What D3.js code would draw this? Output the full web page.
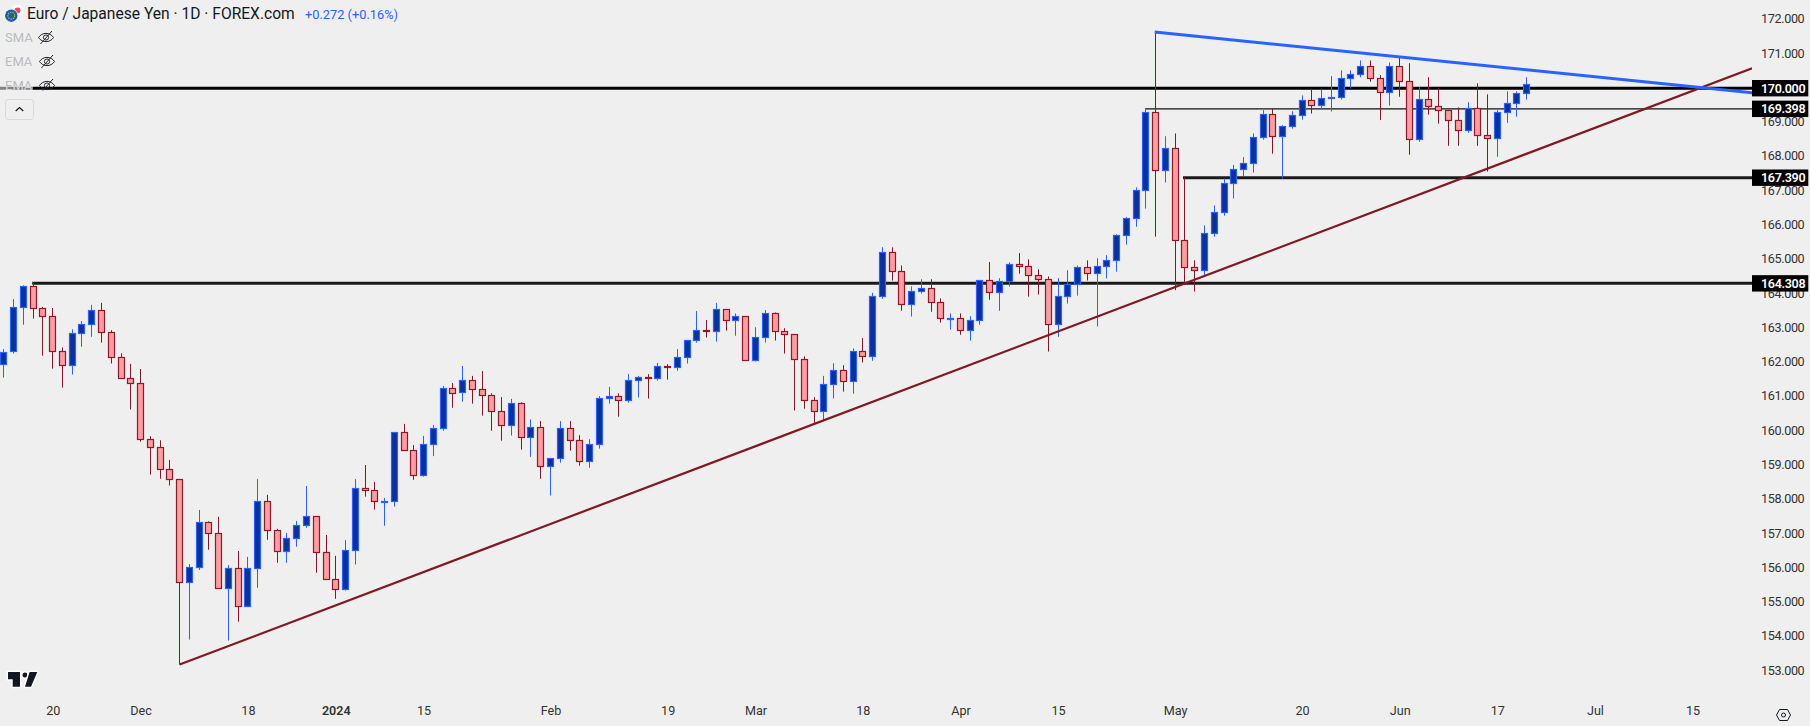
<!DOCTYPE html>
<html><head><meta charset="utf-8">
<script src="https://cdn.jsdelivr.net/npm/d3@7/dist/d3.min.js"></script>
<style>
html,body{margin:0;padding:0;background:#efefef;overflow:hidden}
text{font-family:Roboto,"Liberation Sans",sans-serif}
</style></head><body><svg id="c" width="1810" height="726"></svg>
<script>
const opens=[161.95,162.33,163.61,164.22,163.58,163.35,162.33,161.92,162.85,163.11,
163.52,162.88,162.15,161.54,161.39,159.76,159.53,158.89,158.59,155.59,
156.03,157.34,157.02,155.42,156.00,154.89,156.00,157.95,157.11,156.49,
156.87,157.25,157.51,156.46,155.68,155.39,156.52,158.33,158.27,157.94,
157.95,159.96,159.44,158.71,159.61,160.08,161.25,161.13,161.48,161.22,
161.04,160.58,160.17,160.81,159.82,160.11,158.97,159.21,160.08,159.73,
159.12,159.61,160.96,161.01,160.90,161.48,161.58,161.54,161.89,161.86,
162.15,162.65,162.95,162.91,163.55,163.23,163.35,162.06,162.73,163.43,
162.91,162.82,162.09,160.90,160.58,161.36,161.77,161.45,162.33,162.18,
163.93,165.21,164.66,163.70,164.10,164.16,163.76,163.28,163.29,162.94,
163.23,164.40,164.05,164.37,164.86,164.80,164.54,164.43,163.11,163.93,
164.28,164.78,164.60,164.80,164.98,165.71,166.21,167.02,169.30,167.61,
168.25,165.56,164.78,164.69,165.77,166.38,167.23,167.63,167.81,168.57,
169.24,168.60,168.89,169.21,169.65,169.50,169.70,169.73,170.29,170.40,
170.64,170.29,169.88,170.64,170.20,168.51,169.68,169.47,169.36,169.06,
168.77,169.41,168.63,168.54,169.30,169.56,169.85];
const closes=[162.32,163.61,164.22,163.58,163.35,162.33,161.92,162.85,163.11,163.52,
162.88,162.15,161.54,161.39,159.76,159.53,158.89,158.59,155.59,156.03,
157.34,157.02,155.42,156.00,154.89,156.00,157.95,157.11,156.49,156.87,
157.25,157.51,156.46,155.68,155.39,156.52,158.33,158.27,157.95,157.96,
159.96,159.44,158.71,159.61,160.08,161.25,161.12,161.48,161.22,161.04,
160.58,160.17,160.81,159.82,160.11,158.97,159.21,160.08,159.73,159.12,
159.61,160.96,161.01,160.90,161.48,161.57,161.54,161.89,161.86,162.15,
162.65,162.94,162.93,163.55,163.23,163.35,162.06,162.73,163.43,162.91,
162.82,162.09,160.90,160.58,161.36,161.77,161.45,162.33,162.18,163.93,
165.21,164.66,163.70,164.10,164.16,163.76,163.29,163.30,162.94,163.23,
164.40,164.05,164.37,164.86,164.80,164.54,164.43,163.11,163.93,164.28,
164.78,164.60,164.80,164.98,165.71,166.21,167.02,169.30,167.61,168.25,
165.56,164.78,164.69,165.77,166.38,167.23,167.63,167.81,168.57,169.24,
168.60,168.89,169.21,169.65,169.50,169.70,169.73,170.29,170.40,170.64,
170.29,169.88,170.64,170.20,168.51,169.68,169.47,169.36,169.06,168.77,
169.41,168.63,168.54,169.30,169.56,169.85,170.11];
const highs=[162.39,163.85,164.25,164.33,163.62,163.59,162.44,162.97,163.21,163.68,
163.74,162.94,162.27,161.96,161.81,159.85,159.73,159.16,158.59,156.12,
157.70,157.37,157.50,156.09,156.50,156.33,158.60,158.14,157.15,157.03,
157.38,158.40,157.51,156.97,156.36,156.82,158.60,159.01,158.52,158.05,
159.96,160.21,159.59,159.86,160.18,161.32,161.40,161.90,161.61,161.75,
161.10,160.99,160.94,160.84,160.34,160.29,159.21,160.29,160.29,159.88,
159.76,161.02,161.29,161.10,161.66,161.61,161.66,161.99,161.95,162.39,
162.65,163.50,163.24,163.74,163.55,163.43,163.35,163.03,163.53,163.46,
163.00,162.82,162.18,160.99,161.61,161.98,161.92,162.41,162.71,164.03,
165.36,165.36,164.83,164.22,164.43,164.43,163.87,163.43,163.43,163.35,
164.40,164.93,164.46,164.92,165.19,165.01,164.72,164.51,164.46,164.69,
164.83,164.98,165.04,165.13,165.74,166.24,167.11,169.41,171.64,168.60,
168.68,167.40,164.98,166.00,166.58,167.37,167.76,167.99,168.68,169.36,
169.41,168.92,169.33,169.79,169.97,169.95,170.35,170.52,170.52,170.81,
170.81,170.38,170.75,170.90,170.73,170.03,170.32,170.00,169.36,169.44,
169.59,170.14,169.82,169.36,169.91,169.91,170.32];
const lows=[161.56,162.26,163.10,163.28,162.20,161.82,161.27,161.65,162.46,162.75,
162.58,161.97,161.53,160.63,159.69,158.73,158.61,158.41,153.19,153.92,
155.95,156.54,155.41,153.89,154.44,154.88,155.43,156.83,156.16,156.16,
156.63,157.18,155.87,155.67,155.11,155.35,156.11,158.09,157.71,157.24,
157.80,159.43,158.58,158.67,159.27,160.01,160.68,160.86,160.80,160.45,
160.01,159.72,159.87,159.46,159.25,158.61,158.12,159.08,159.43,158.99,
158.93,159.49,160.80,160.42,160.83,160.98,160.95,161.47,161.50,161.76,
161.97,162.58,162.73,162.61,162.93,162.78,162.05,162.03,162.58,162.64,
162.26,160.60,160.65,160.23,160.29,160.95,161.15,161.09,162.00,162.05,
163.86,164.39,163.51,163.34,164.01,163.48,163.16,162.96,162.81,162.64,
163.10,163.83,163.51,164.21,164.59,163.92,163.98,162.32,162.75,163.72,
163.95,164.39,163.05,164.45,164.65,165.44,165.96,166.49,165.67,167.25,
164.11,164.31,164.07,164.50,165.67,166.28,166.78,167.44,167.54,168.50,
168.09,167.36,168.82,169.08,169.26,169.40,169.32,169.67,169.99,170.32,
170.19,169.07,169.49,169.75,168.06,168.44,169.23,168.97,168.32,168.32,
168.70,168.32,167.57,168.00,168.99,169.17,169.67];
const priceTicks=[153,154,155,156,157,158,159,160,161,162,163,164,165,166,167,168,169,170,171,172];
const xTickBars=[5,14,25,34,43,56,68,77,88,98,108,120,133,143,153,163,173];
const xTickLabels=["20","Dec","18","2024","15","Feb","19","Mar","18","Apr","15","May","20","Jun","17","Jul","15"];
const levelPrices=[170,169.398,167.39,164.308];
const levelStart=[-1,116.9,120.8,2.9];
const levelWidths=[3,1.3,3,3];
const levelColors=["#000","#111","#1a1a1a","#1a1a1a"];
const supportBars=[18,179.1], supportPrices=[153.19,170.58];
const resistBars=[117.9,179.1], resistPrices=[171.64,169.87];
const title="Euro / Japanese Yen · 1D · FOREX.com", change="+0.272 (+0.16%)";
const legendNames=["SMA","EMA","EMA"];

const BLUE="#2962ff",UPFILL="#0c3299",RED="#801922",DNBORDER="#8c1a27",DNFILL="#fb9ea3";
const W=1810,H=726,R=1752;
const svg=d3.select("#c");
const x=d3.scaleLinear().domain([0,156]).range([3.9,1526.6]);
const y=d3.scaleLinear().domain([153,170]).range([671.1,88.2]);
const px=v=>Math.floor(v)+0.5;

svg.append("rect").attr("width",W).attr("height",H).attr("fill","#efefef");
svg.append("defs").append("clipPath").attr("id","plot").append("rect").attr("width",R).attr("height",H);

// level lines
const lv=svg.append("g").attr("clip-path","url(#plot)");
levelPrices.forEach((p,i)=>{
  lv.append("line").attr("x1",x(levelStart[i])).attr("x2",R).attr("y1",y(p)).attr("y2",y(p))
    .attr("stroke",levelColors[i]).attr("stroke-width",levelWidths[i]);
});

// candles
const bars=d3.range(opens.length);
const g=svg.append("g");
g.selectAll("line.w").data(bars).join("line").attr("class","w")
  .attr("x1",i=>px(x(i))).attr("x2",i=>px(x(i)))
  .attr("y1",i=>y(highs[i])).attr("y2",i=>y(lows[i]))
  .attr("stroke",i=>closes[i]>=opens[i]?BLUE:RED).attr("stroke-width",1);
g.selectAll("rect.b").data(bars).join("rect").attr("class","b")
  .attr("x",i=>px(x(i))-3).attr("width",6)
  .attr("y",i=>Math.round(y(Math.max(opens[i],closes[i])))+.5)
  .attr("height",i=>Math.max(1,Math.round(y(Math.min(opens[i],closes[i])))-Math.round(y(Math.max(opens[i],closes[i])))))
  .attr("fill",i=>closes[i]>=opens[i]?UPFILL:DNFILL)
  .attr("stroke",i=>closes[i]>=opens[i]?BLUE:DNBORDER)
  .attr("stroke-width",1.2);

// trend lines
const tl=svg.append("g").attr("clip-path","url(#plot)");
tl.append("line").attr("x1",x(supportBars[0])).attr("y1",y(supportPrices[0])).attr("x2",x(supportBars[1])).attr("y2",y(supportPrices[1]))
  .attr("stroke",RED).attr("stroke-width",2.2);
tl.append("line").attr("x1",x(resistBars[0])).attr("y1",y(resistPrices[0])).attr("x2",x(resistBars[1])).attr("y2",y(resistPrices[1]))
  .attr("stroke",BLUE).attr("stroke-width",3);

// price axis
const ay=svg.append("g").attr("transform",`translate(${R},0)`)
  .call(d3.axisRight(y).tickValues(priceTicks).tickFormat(d3.format(".3f")).tickSize(0).tickPadding(9));
ay.select(".domain").remove();
ay.selectAll("text").attr("font-size",12.6).attr("fill","#333").attr("dy","0.25em").attr("letter-spacing","-0.35");

// level labels
levelPrices.forEach(p=>{
  const yy=y(p);
  svg.append("rect").attr("x",R).attr("y",yy-8.2).attr("width",56.3).attr("height",16.4).attr("fill","#000");
  svg.append("text").attr("x",R+9).attr("y",yy+4.5).attr("font-size",12.6).attr("font-weight",600)
    .attr("letter-spacing","-0.35").attr("fill","#fff").text(d3.format(".3f")(p));
});

// time axis
const ax=svg.append("g").attr("transform","translate(0,706)")
  .call(d3.axisBottom(x).tickValues(xTickBars).tickFormat((d,i)=>xTickLabels[i]).tickSize(0).tickPadding(0));
ax.select(".domain").remove();
ax.selectAll("text").attr("font-size",12.6).attr("fill","#333").attr("dy","0.71em")
  .attr("font-weight",(d,i)=>xTickLabels[i]==="2024"?600:400);

// settings hexagon
svg.append("path").attr("d","M1776.5 715l3-5.5h8l3 5.5-3 5.5h-8z").attr("fill","none").attr("stroke","#131722").attr("stroke-width",1);
svg.append("circle").attr("cx",1783.5).attr("cy",715).attr("r",2).attr("fill","none").attr("stroke","#131722");

// header
svg.append("circle").attr("cx",17.5).attr("cy",10.5).attr("r",6).attr("fill","#fff");
svg.append("circle").attr("cx",17.5).attr("cy",10.5).attr("r",3).attr("fill","#f2495a");
svg.append("circle").attr("cx",11.3).attr("cy",15.7).attr("r",7).attr("fill","#efefef");
svg.append("circle").attr("cx",11.3).attr("cy",15.7).attr("r",6.2).attr("fill","#1c5bb5");
svg.append("circle").attr("cx",11.3).attr("cy",15.7).attr("r",3.4).attr("fill","none").attr("stroke","#e2c23a").attr("stroke-width",1.1).attr("stroke-dasharray","1.2 1.2");
svg.append("text").attr("x",27).attr("y",19).attr("font-size",15.6).attr("fill","#131722").attr("id","title").text(title);
svg.append("text").attr("x",305).attr("y",18.5).attr("font-size",12.8).attr("fill",BLUE).text(change);

// legend rows
svg.append("defs").append("clipPath").attr("id","leg").append("rect").attr("width",70).attr("height",90.5);
const lg=svg.append("g").attr("clip-path","url(#leg)");
legendNames.forEach((n,i)=>{
  const yy=37.5+24*i, ex=46+(i?1:0);
  lg.append("text").attr("x",5).attr("y",yy+4.5).attr("font-size",13).attr("fill","#b8bbc2").text(n);
  const e=lg.append("g").attr("transform",`translate(${ex},${yy})`).attr("fill","none").attr("stroke","#26292f").attr("stroke-width",1);
  e.append("path").attr("d","M-7.5 0C-4 -5.5 4 -5.5 7.5 0C4 5.5 -4 5.5 -7.5 0z");
  e.append("circle").attr("r",2.6);
  e.append("path").attr("d","M-5.5 6.5L6 -6.5");
});
svg.append("rect").attr("x",0).attr("y",86).attr("width",33).attr("height",5).attr("fill","#efefef").attr("opacity",.55);
svg.append("rect").attr("x",5.5).attr("y",99.5).attr("width",28).attr("height",20).attr("rx",3).attr("fill","#efefef").attr("stroke","#d6d8dd");
svg.append("path").attr("d","M15.7 111l3.8-3.5 3.8 3.5").attr("fill","none").attr("stroke","#131722").attr("stroke-width",1.2);

// logo
const logo=svg.append("g").attr("fill","#131722").attr("stroke","#fff").attr("stroke-width",3).attr("paint-order","stroke").attr("stroke-linejoin","round");
logo.append("path").attr("d","M8 672H20V686.7H12.7V679.3H8Z");
logo.append("circle").attr("cx",25).attr("cy",675).attr("r",2.5);
logo.append("path").attr("d","M37.3 672L31 686.7H25L29.6 672Z");
</script></body></html>
